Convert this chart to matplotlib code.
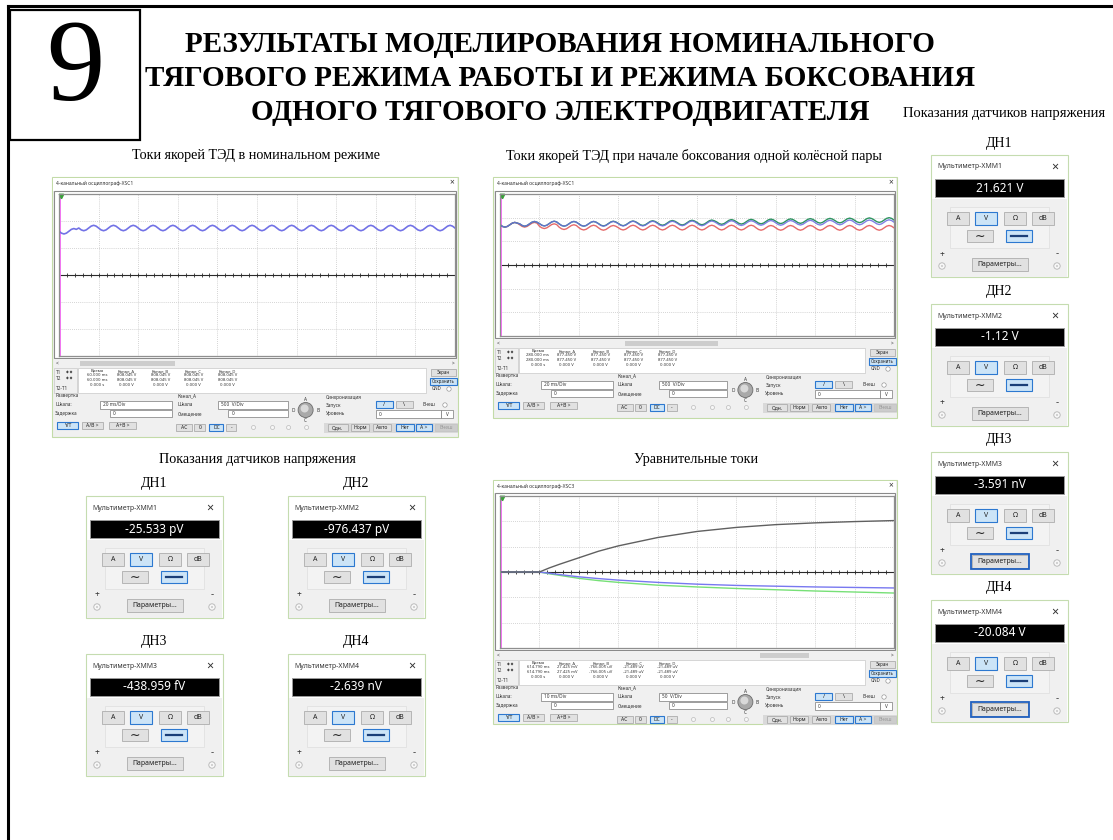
import numpy as np
import matplotlib.pyplot as plt
from matplotlib.patches import Rectangle, Circle

# ---------------- data ----------------
slide_no = '9'
title_lines = ['РЕЗУЛЬТАТЫ МОДЕЛИРОВАНИЯ НОМИНАЛЬНОГО',
               'ТЯГОВОГО РЕЖИМА РАБОТЫ И РЕЖИМА БОКСОВАНИЯ',
               'ОДНОГО ТЯГОВОГО ЭЛЕКТРОДВИГАТЕЛЯ']
cap_nominal = 'Токи якорей ТЭД в номинальном режиме'
cap_slip = 'Токи якорей ТЭД при начале боксования одной колёсной пары'
cap_sensors = 'Показания датчиков напряжения'
cap_equal = 'Уравнительные токи'

# one ripple period as it looks on the screens (units of ripple amplitude)
ripple_shape = [0, -0.7, -1, -0.7, 0, 0.7, 1, 0.7]
ripple_amp = 0.1  # div

# scope 1, nominal mode: trace level per ripple period (div)
nom_blue = [1.62, 1.74, 1.74, 1.74, 1.74, 1.74, 1.74, 1.74, 1.74, 1.74,
            1.74, 1.74, 1.74, 1.74, 1.74, 1.74, 1.74, 1.74, 1.74, 1.74]

# scope 2, start of wheel slip: levels per ripple period (div)
slip_blue = [1.70, 1.74, 1.75, 1.74, 1.74, 1.74, 1.75, 1.75, 1.75, 1.76,
             1.76, 1.77, 1.77, 1.78, 1.78, 1.79, 1.79, 1.80, 1.80, 1.81]
slip_green = [1.70, 1.74, 1.75, 1.74, 1.74, 1.75, 1.76, 1.77, 1.78, 1.79,
              1.80, 1.82, 1.83, 1.84, 1.85, 1.86, 1.87, 1.88, 1.89, 1.90]
slip_red = [1.70, 1.70, 1.64, 1.60, 1.58, 1.57, 1.58, 1.58, 1.58, 1.58,
            1.58, 1.58, 1.58, 1.57, 1.57, 1.57, 1.57, 1.57, 1.57, 1.57]

# scope 3, equalising currents (time in div, value in div)
eq_t = [0, 1, 1.25, 1.5, 2, 2.5, 3, 4, 5, 6, 7, 8, 9, 10]
eq_black = [0, 0, 0.16, 0.30, 0.56, 0.82, 1.03, 1.36, 1.60, 1.76, 1.87, 1.94, 1.99, 2.03]
eq_blue = [0, 0, -0.05, -0.10, -0.19, -0.26, -0.32, -0.41, -0.48, -0.53, -0.56, -0.59, -0.61, -0.63]
eq_green = [0, 0, -0.07, -0.13, -0.25, -0.34, -0.41, -0.52, -0.59, -0.65, -0.70, -0.75, -0.79, -0.83]

# scope readouts
scope_names = ['4-канальный осциллограф-XSC1', '4-канальный осциллограф-XSC1',
               '4-канальный осциллограф-XSC3']
scope_time = ['60.000 ms', '280.000 ms', '614.790 ms']
scope_chan = [['808.045 V', '808.045 V', '808.045 V', '808.045 V'],
              ['877.450 V', '877.450 V', '877.450 V', '877.450 V'],
              ['27.425 mV', '-766.005 uV', '-21.489 uV', '-21.489 uV']]
scope_timebase = ['20 ms/Div', '20 ms/Div', '10 ms/Div']
scope_vscale = ['500  V/Div', '500  V/Div', '50  V/Div']
chan_heads = ['Канал_A', 'Канал_B', 'Канал_C', 'Канал_D']

# multimeters
meter_labels = ['ДН1', 'ДН2', 'ДН3', 'ДН4']
meter_names = ['Мультиметр-XMM1', 'Мультиметр-XMM2', 'Мультиметр-XMM3', 'Мультиметр-XMM4']
nominal_values = ['-25.533 pV', '-976.437 pV', '-438.959 fV', '-2.639 nV']
slip_values = ['21.621 V', '-1.12 V', '-3.591 nV', '-20.084 V']

# ---------------- figure ----------------
W, H = 1113, 840
SERIF = ['Liberation Serif', 'DejaVu Serif']
SANS = ['Noto Sans', 'DejaVu Sans']
plt.rcParams['font.family'] = SANS

fig = plt.figure(figsize=(W / 100, H / 100), dpi=100)
bg = fig.add_axes([0, 0, 1, 1])
bg.set_xlim(0, W)
bg.set_ylim(H, 0)
bg.axis('off')


def box(x0, y0, x1, y1, fc='white', ec='none', lw=0.6, z=1):
    bg.add_patch(Rectangle((x0, y0), x1 - x0, y1 - y0, fc=fc, ec=ec, lw=lw, zorder=z))


def label(x, y, s, fs=3.6, ha='left', color='#333333', fam=SANS, z=5, **kw):
    bg.text(x, y, s, fontsize=fs, ha=ha, va='center', color=color, family=fam, zorder=z, **kw)


def button(x0, y0, x1, y1, s, state='off', fs=3.6):
    fc, ec, lw = {'off': ('#e1e1e1', '#adadad', 0.6),
                  'on': ('#cce4f7', '#2c78d0', 0.8),
                  'dis': ('#cccccc', '#c4c4c4', 0.6)}[state]
    box(x0, y0, x1, y1, fc, ec, lw, 3)
    if s:
        label((x0 + x1) / 2, (y0 + y1) / 2, s, fs, ha='center',
              color='#999999' if state == 'dis' else '#222222')


def ripple(levels):
    y = []
    for lv in levels:
        y.extend(lv + ripple_amp * v for v in ripple_shape)
    y.append(levels[-1] + ripple_amp * ripple_shape[0])
    x = np.arange(len(y)) * (10.0 / (len(y) - 1))
    return x, np.array(y)


def screen(x0, y0, x1, y1):
    ax = fig.add_axes([x0 / W, 1 - y1 / H, (x1 - x0) / W, (y1 - y0) / H])
    ax.set_xlim(0, 10)
    ax.set_ylim(-3, 3)
    ax.set_xticks([])
    ax.set_yticks([])
    for sp in ax.spines.values():
        sp.set_color('#8f8f8f')
        sp.set_linewidth(0.9)
    for k in range(1, 10):
        ax.axvline(k, color='#c6c6c6', lw=0.6, ls=(0, (1, 1.5)))
    for k in (-2, -1, 1, 2):
        ax.axhline(k, color='#c6c6c6', lw=0.6, ls=(0, (1, 1.5)))
    ax.axhline(0, color='#2a2a2a', lw=0.8)
    tk = np.arange(0, 10.01, 0.2)
    ax.plot(tk, np.zeros_like(tk), ls='none', marker='|', ms=2.2, mew=0.6, color='#2a2a2a')
    ax.axvline(0.03, color='#ff66ff', lw=1.3)
    ax.plot([0.06], [2.93], marker='v', ms=3.2, color='#3aa03a', clip_on=False)
    return ax


def scope(i, L, T, R, st, sb, bot, thumb):
    s = (R - L) / 405.0

    def X(v):
        return L + v * s

    box(L, T, R, bot, '#f0f0f0', '#c3dba8', 0.8, 1)
    box(L + 1, T + 1, R - 1, st, 'white', 'none', 0, 1.5)
    label(L + 4, T + 6, scope_names[i], 3.6)
    label(R - 6, T + 6, '×', 6, ha='center')
    box(L + 2, st, R - 2, sb, 'white', '#8a8a8a', 0.8, 2)
    # scrollbar
    box(L + 2, sb + 1, R - 2, sb + 9, '#f0f0f0', 'none', 0, 2)
    box(X(thumb[0]), sb + 2.5, X(thumb[1]), sb + 7.5, '#cdcdcd', 'none', 0, 3)
    label(L + 4, sb + 5, '<', 3.5)
    label(R - 3, sb + 5, '>', 3.5, ha='right')
    # cursor readout
    box(L + 2, sb + 10, X(25), sb + 35, '#f0f0f0', '#c8c8c8', 0.5, 2)
    label(L + 4, sb + 15, 'T1', 3.4)
    label(L + 4, sb + 21, 'T2', 3.4)
    label(L + 4, sb + 30, 'T2-T1', 3.4)
    label(X(17), sb + 15, '◆ ◆', 2.6, ha='center', color='#444444')
    label(X(17), sb + 21, '◆ ◆', 2.6, ha='center', color='#444444')
    box(X(26), sb + 10, X(373), sb + 35, 'white', '#c8c8c8', 0.5, 2)
    cols = [45, 74, 108, 141, 175]
    heads = ['Время'] + chan_heads
    r1 = [scope_time[i]] + scope_chan[i]
    r3 = ['0.000 s', '0.000 V', '0.000 V', '0.000 V', '0.000 V']
    for c, h, v, z0 in zip(cols, heads, r1, r3):
        label(X(c), sb + 13, h, 3.0, ha='center')
        label(X(c), sb + 17.5, v, 3.0, ha='center')
        label(X(c), sb + 22, v, 3.0, ha='center')
        label(X(c), sb + 26.5, z0, 3.0, ha='center')
    button(X(378), sb + 11, X(403), sb + 18, 'Экран', 'off', 3.2)
    button(X(377), sb + 20, X(404), sb + 27, 'Сохранить', 'on', 3.2)
    label(X(379), sb + 31, 'GND', 3.2)
    bg.add_patch(Circle((X(396), sb + 31), 2.2, fc='white', ec='#999999', lw=0.5, zorder=3))
    # timebase
    label(X(3), sb + 38, 'Развертка', 3.4)
    label(X(3), sb + 47, 'Шкала:', 3.4)
    box(X(48), sb + 43, X(120), sb + 51, 'white', '#7a7a7a', 0.5, 2)
    label(X(51), sb + 47, scope_timebase[i], 3.4)
    label(X(3), sb + 55, 'Задержка', 3.4)
    box(X(58), sb + 51.5, X(120), sb + 59, 'white', '#7a7a7a', 0.5, 2)
    label(X(61), sb + 55.5, '0', 3.4)
    button(X(5), sb + 64, X(26), sb + 71, 'Y/T', 'on')
    button(X(30), sb + 64, X(51), sb + 71, 'A/B >')
    button(X(57), sb + 64, X(84), sb + 71, 'A+B >')
    # channel
    label(X(125), sb + 38, 'Канал_A', 3.4)
    label(X(125), sb + 47, 'Шкала', 3.4)
    box(X(166), sb + 43, X(235), sb + 51, 'white', '#7a7a7a', 0.5, 2)
    label(X(169), sb + 47, scope_vscale[i], 3.4)
    label(X(125), sb + 55.5, 'Смещение', 3.4)
    box(X(176), sb + 52, X(235), sb + 59, 'white', '#7a7a7a', 0.5, 2)
    label(X(179), sb + 55.5, '0', 3.4)
    button(X(124), sb + 66, X(140), sb + 73, 'AC')
    button(X(142), sb + 66, X(153), sb + 73, '0')
    button(X(157), sb + 66, X(171), sb + 73, 'DC', 'on')
    button(X(174), sb + 66, X(184), sb + 73, '-')
    for c in (201, 220, 236, 254):
        bg.add_patch(Circle((X(c), sb + 69.5), 2.0, fc='#f6f6f6', ec='#bbbbbb', lw=0.5, zorder=3))
    bg.add_patch(Circle((X(253), sb + 52), 7.5, fc='#a9a9a9', ec='#6a6a6a', lw=0.6, zorder=3))
    bg.add_patch(Circle((X(252), sb + 50.5), 4.0, fc='#d9d9d9', ec='none', zorder=4))
    label(X(253), sb + 41.5, 'A', 3.4, ha='center')
    label(X(265), sb + 52, 'B', 3.4, ha='center')
    label(X(253), sb + 62.5, 'C', 3.4, ha='center')
    label(X(241), sb + 52, 'D', 3.4, ha='center')
    # trigger
    label(X(273), sb + 39, 'Синхронизация', 3.4)
    label(X(273), sb + 47, 'Запуск', 3.4)
    button(X(323), sb + 43, X(340), sb + 50, '/', 'on', 4)
    button(X(343), sb + 43, X(360), sb + 50, '\\', 'off', 4)
    label(X(370), sb + 47, 'Внеш', 3.4)
    bg.add_patch(Circle((X(392), sb + 47), 2.2, fc='white', ec='#999999', lw=0.5, zorder=3))
    label(X(273), sb + 56, 'Уровень', 3.4)
    box(X(323), sb + 52, X(388), sb + 59.5, 'white', '#7a7a7a', 0.5, 2)
    label(X(326), sb + 56, '0', 3.4)
    box(X(388), sb + 52, X(400), sb + 59.5, 'white', '#7a7a7a', 0.5, 2)
    label(X(394), sb + 56, 'V', 3.4, ha='center')
    box(X(271), sb + 64.5, X(405), sb + 74.5, '#d9d9d9', 'none', 0, 2)
    for (a, b), t, stt in zip([(275, 295), (298, 316), (320, 338), (343, 361), (363, 379), (382, 404)],
                              ['Одн.', 'Норм', 'Авто', 'Нет', 'A >', 'Внеш'],
                              ['off', 'off', 'off', 'on', 'on', 'dis']):
        button(X(a), sb + 66, X(b), sb + 73, t, stt)
    return screen(L + 7, st + 3, R - 3, sb - 2)


def meter(x, y, lab, name, value, focus=False):
    label(x + 68, y - 12, lab, 10, ha='center', color='black', fam=SERIF)
    box(x, y, x + 137, y + 122, 'white', '#c5dcb0', 0.8, 1)
    label(x + 6, y + 12, name, 5, color='#333333')
    label(x + 124, y + 12, '×', 9, ha='center', color='#333333')
    box(x + 1, y + 44, x + 136, y + 121.5, '#f0f0f0', 'none', 0, 1.5)
    box(x + 4, y + 24, x + 133, y + 42, 'black', '#9a9a9a', 0.7, 2)
    label(x + 68.5, y + 33, value, 8.5, ha='center', color='white')
    box(x + 19, y + 52, x + 118, y + 93, '#f3f3f3', '#dedede', 0.5, 2)
    for t, cx, stt in zip(['A', 'V', 'Ω', 'dB'], [27, 55, 84, 112], ['off', 'on', 'off', 'off']):
        button(x + cx - 11, y + 57, x + cx + 11, y + 70, t, stt, 5)
    button(x + 36, y + 75, x + 62, y + 87, '∼', 'off', 9)
    button(x + 75, y + 75, x + 101, y + 87, '', 'on')
    bg.plot([x + 80, x + 96], [y + 81, y + 81], color='#1b3f78', lw=1.6, zorder=5)
    label(x + 11, y + 99, '+', 6, ha='center')
    label(x + 126, y + 99, '-', 7, ha='center')
    for cx in (11, 126):
        bg.add_patch(Circle((x + cx, y + 111), 3.2, fc='#f7f7f7', ec='#b5b5b5', lw=0.6, zorder=3))
        bg.add_patch(Circle((x + cx, y + 111), 1.0, fc='#c9c9c9', ec='none', zorder=4))
    button(x + 41, y + 103, x + 97, y + 116, 'Параметры...', 'off', 5)
    if focus:
        box(x + 40, y + 102, x + 98, y + 117, 'none', '#1f5fbf', 1.3, 6)


# ---------------- slide frame and headings ----------------
bg.plot([8, W], [6, 6], color='black', lw=2.2, zorder=1)
bg.plot([8, 8], [6, H], color='black', lw=2.2, zorder=1)
box(10, 10, 140, 140, 'white', 'black', 1.6, 2)
bg.text(75, 72, slide_no, fontsize=84, ha='center', va='center', family=SERIF, zorder=3)
for k, line in enumerate(title_lines):
    bg.text(560, 45 + k * 33.5, line, fontsize=21, fontweight='bold', ha='center',
            va='center', family=SERIF, zorder=3)
label(1004, 114, cap_sensors, 10.5, ha='center', color='black', fam=SERIF)
label(256, 156, cap_nominal, 10.2, ha='center', color='black', fam=SERIF)
label(694, 156, cap_slip, 10.2, ha='center', color='black', fam=SERIF)
label(257, 460, cap_sensors, 10.2, ha='center', color='black', fam=SERIF)
label(696, 460, cap_equal, 10.2, ha='center', color='black', fam=SERIF)

# ---------------- oscilloscopes ----------------
ax1 = scope(0, 52, 177, 458, 191, 358, 437, (28, 123))
x, y = ripple(nom_blue)
ax1.plot(x, y, color='#7272e6', lw=1.2)

ax2 = scope(1, 493, 177, 897, 191, 338, 418, (132, 226))
x, y = ripple(slip_red)
ax2.plot(x, y, color='#e56a6a', lw=1.0)
x, y = ripple(slip_green)
ax2.plot(x, y, color='#2e9460', lw=1.0)
x, y = ripple(slip_blue)
ax2.plot(x, y, color='#6b6be0', lw=1.0, alpha=0.85)

ax3 = scope(2, 493, 480, 897, 493, 650, 724, (268, 317))
ax3.plot(eq_t, eq_green, color='#77e077', lw=1.0)
ax3.plot(eq_t, eq_blue, color='#7878f0', lw=1.0)
ax3.plot(eq_t, eq_black, color='#606060', lw=1.0)

# ---------------- multimeters ----------------
left_pos = [(86, 496), (288, 496), (86, 654), (288, 654)]
right_pos = [(931, 155), (931, 304), (931, 452), (931, 600)]
for k in range(4):
    meter(left_pos[k][0], left_pos[k][1], meter_labels[k], meter_names[k], nominal_values[k])
    meter(right_pos[k][0], right_pos[k][1], meter_labels[k], meter_names[k], slip_values[k],
          focus=k >= 2)

fig.savefig('out.png', dpi=100)
